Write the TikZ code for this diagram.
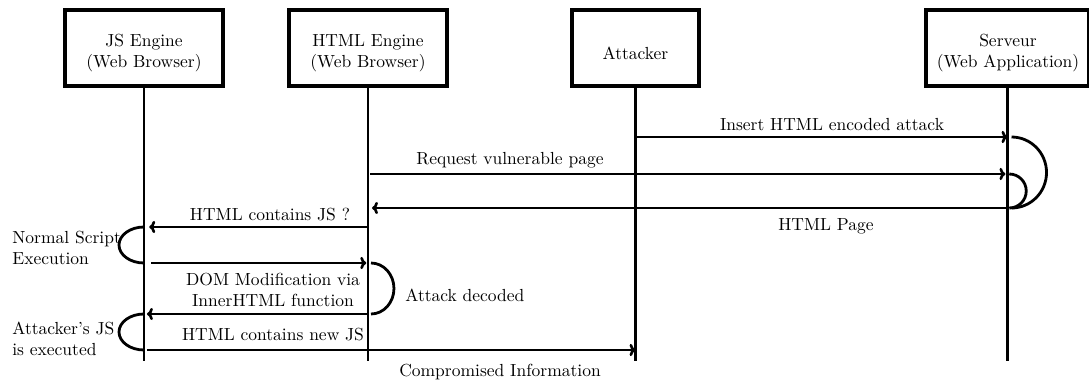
\documentclass[tikz,border=0pt]{standalone}
\usetikzlibrary{arrows.meta}
\begin{document}
\begin{tikzpicture}[x=0.5714pt,y=0.5714pt,
  box/.style={draw,line width=1.9pt,inner sep=0pt,minimum height=43.43pt},
  boxtext/.style={align=center,inner sep=0pt},
  life/.style={line width=1.6pt},
  msg/.style={line width=1.5pt,-{To[length=3.4pt,width=7pt]}},
  lbl/.style={inner sep=0pt,align=center},
  side/.style={inner sep=0pt,align=left,anchor=west}]
\useasboundingbox (0,0) rectangle (1089,383);

% actor boxes
\node[box,minimum width=90.28pt] (js) at (144,335) {};
\node[boxtext] (jst) at (144,330) {JS Engine\\(Web Browser)};
\node[box,minimum width=90.28pt] (html) at (368,335) {};
\node[boxtext] (htmlt) at (368,330) {HTML Engine\\(Web Browser)};
\node[box,minimum width=72.57pt] (atk) at (635.5,335) {};
\node[boxtext] (atkt) at (635.5,330) {Attacker};
\node[box,minimum width=93.14pt] (srv) at (1007.5,335) {};
\node[boxtext] (srvt) at (1008,330) {Serveur\\(Web Application)};

% lifelines
\draw[life] (js.south) -- (js |- 0,22);
\draw[life] (html.south) -- (html |- 0,22);
\draw[life] (atk.south) -- (atk |- 0,22);
\draw[life] (srv.south) -- (srv |- 0,22);

% messages
\draw[msg] (atk |- 0,246) -- (srv |- 0,246);
\node[lbl] (l1) at (832,258) {Insert HTML encoded attack};

\draw[msg,shorten <=1.2pt,shorten >=1.2pt] (html |- 0,209) -- (srv |- 0,209);
\node[lbl] (l2) at (510,223) {Request vulnerable page};

\draw[msg,shorten >=2.3pt] (srv |- 0,175) -- (html |- 0,175);
\node[lbl] (l3) at (826,157) {HTML Page};

\draw[msg,shorten >=3pt] (html |- 0,156) -- (js |- 0,156);
\node[lbl] (l4) at (270,168) {HTML contains JS ?};

\draw[msg,shorten <=4pt,shorten >=1pt] (js |- 0,120) -- (html |- 0,120);

\draw[msg,shorten >=1.7pt] (html |- 0,69) -- (js |- 0,69);
\node[lbl] (l5) at (273,93.5) {DOM Modification via\\InnerHTML function};

\draw[msg,shorten <=1.7pt] (js |- 0,33) -- (atk |- 0,33);
\node[lbl] (l6) at (273,48) {HTML contains new JS};
\node[lbl] (l7) at (500,11) {Compromised Information};

% activation arcs
\draw[life] ([xshift=2.3pt]srv.center |- 0,246) arc[start angle=90,end angle=-90,x radius=35,y radius=35.5];
\draw[life] ([xshift=1pt]srv.center |- 0,209) arc[start angle=90,end angle=-90,x radius=17,y radius=17];
\draw[life] (js |- 0,156) arc[start angle=90,end angle=270,x radius=25,y radius=18];
\draw[life] (js |- 0,69) arc[start angle=90,end angle=270,x radius=25,y radius=18];
\draw[life] ([xshift=1.7pt]html.center |- 0,120) arc[start angle=90,end angle=-90,x radius=23,y radius=25.5];

\node[side] (s1) at (12,135.5) {Normal Script\\Execution};
\node[side] (s2) at (12,44) {Attacker's JS\\is executed};
\node[side] (s3) at (405,88) {Attack decoded};
\end{tikzpicture}
\end{document}
